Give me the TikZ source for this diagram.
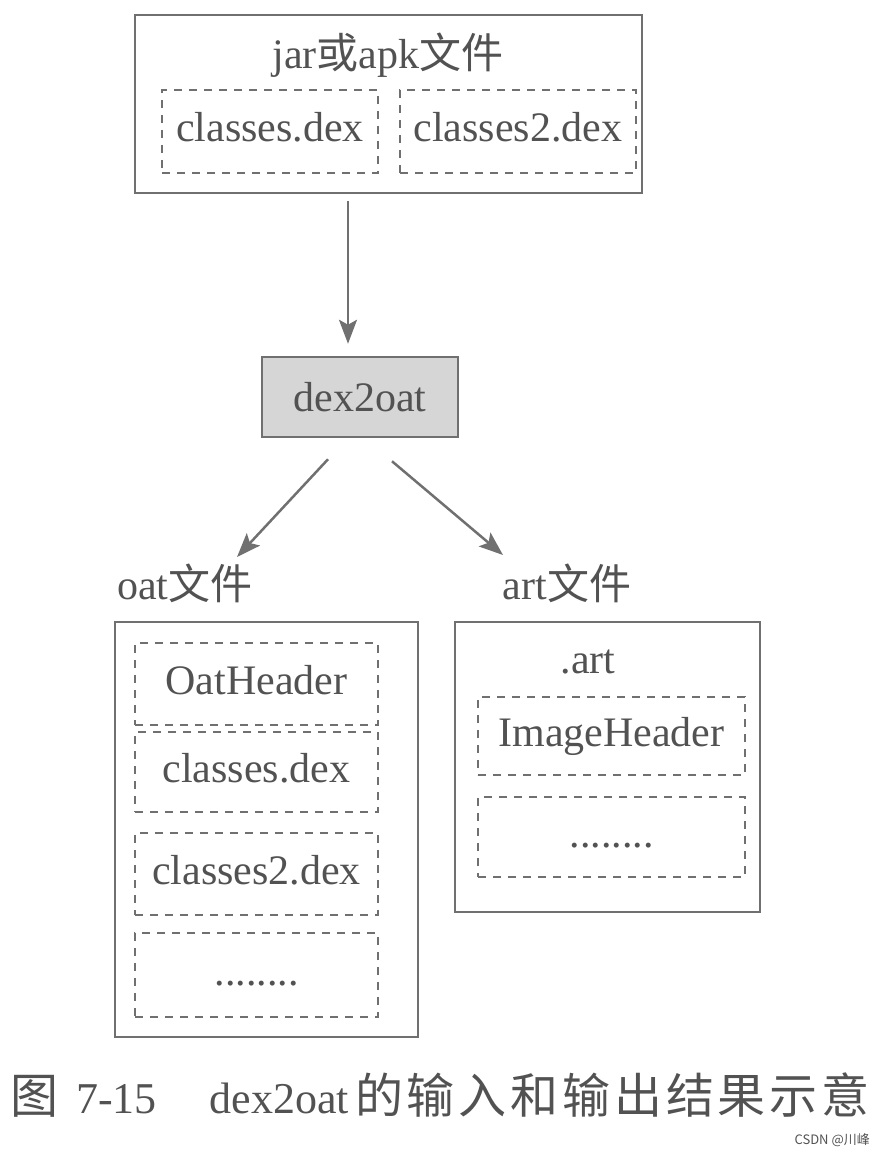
\documentclass[tikz,border=0pt]{standalone}
\usepackage{fontspec}
\setmainfont{Liberation Serif}
\newfontfamily\cjk{Noto Sans CJK SC}
\newfontfamily\cjkcap[LetterSpace=8]{Noto Sans CJK SC}
\usetikzlibrary{arrows.meta, positioning, calc}
\definecolor{linegray}{RGB}{112,112,112}
\definecolor{textgray}{RGB}{82,82,82}
\definecolor{toolgray}{RGB}{214,214,214}
\newcommand{\diagfont}{\fontsize{42}{50}\selectfont}

\begin{document}
\begin{tikzpicture}[x=1pt, y=-1pt,
  filebox/.style={draw=linegray, line width=2.5pt, inner sep=0pt},
  dexbox/.style={draw=linegray, line width=2.2pt, dash pattern=on 8pt off 7pt, inner sep=0pt,
    text=textgray, font=\diagfont, text height=30pt, text depth=9pt},
  toolbox/.style={draw=linegray, line width=2.5pt, fill=toolgray, inner sep=0pt,
    text=textgray, font=\diagfont, minimum width=196pt, minimum height=80pt},
  lbl/.style={text=textgray, font=\diagfont, inner sep=0pt},
  flow/.style={draw=linegray, line width=2.5pt, -{Stealth[length=24pt, width=18pt, inset=5pt]}}]
  \useasboundingbox (0,0) rectangle (883,1155);

  \node[filebox, minimum width=507pt, minimum height=178pt] (jar) at (388.5,104) {};
  \node[lbl] (jartitle) at (388,55) {jar{\cjk 或}apk{\cjk 文件}};
  \node[dexbox, minimum width=216pt, minimum height=83pt] (jardex1) at (270,131.5) {classes.dex};
  \node[dexbox, minimum width=236pt, minimum height=83pt] (jardex2) at (518,131.5) {classes2.dex};

  \node[toolbox] (tool) at (360,397) {dex2oat};

  \node[lbl] (oatlbl) at (185,583) {oat{\cjk 文件}};
  \node[lbl] (artlbl) at (567,583) {art{\cjk 文件}};

  \node[filebox, minimum width=303pt, minimum height=415pt] (oat) at (266.5,829.5) {};
  \node[dexbox, minimum width=243pt, minimum height=82pt] (oathdr) at (256.5,684) {OatHeader};
  \node[dexbox, minimum width=243pt, minimum height=80pt] (oatdex1) at (256.5,772) {classes.dex};
  \node[dexbox, minimum width=243pt, minimum height=82pt] (oatdex2) at (256.5,874) {classes2.dex};
  \node[dexbox, minimum width=243pt, minimum height=84pt] (oatmore) at (256.5,975) {........};

  \node[filebox, minimum width=305pt, minimum height=290pt] (art) at (607.5,767) {};
  \node[lbl] (arttitle) at (588,662) {.art};
  \node[dexbox, minimum width=267pt, minimum height=78pt] (arthdr) at (611.5,736) {ImageHeader};
  \node[dexbox, minimum width=267pt, minimum height=80pt] (artmore) at (611.5,837) {........};

  \draw[flow] ($([xshift=-12pt]tool.north |- jar.south)+(0,7)$) -- ([xshift=-12pt,yshift=12pt]tool.north);
  \draw[flow] ([xshift=-32pt,yshift=-21pt]tool.south) -- ([xshift=52pt,yshift=26pt]oatlbl.center);
  \draw[flow] ([xshift=32pt,yshift=-23pt]tool.south) -- ([xshift=-64pt,yshift=28pt]artlbl.center);

  \node[anchor=west, text=textgray, font=\fontsize{44}{52}\selectfont, inner sep=0pt] (caption) at (10,1095)
    {{\cjkcap\fontsize{48}{52}\selectfont 图}\hspace{18pt}7-15\hspace{53pt}dex2oat\hspace{6pt}{\cjkcap\fontsize{48}{52}\selectfont 的输入和输出结果示意}};
  \node[anchor=east, text=textgray, font=\cjk\fontsize{13}{15}\selectfont, inner sep=0pt] (mark) at (870,1140) {CSDN @川峰};
\end{tikzpicture}
\end{document}
